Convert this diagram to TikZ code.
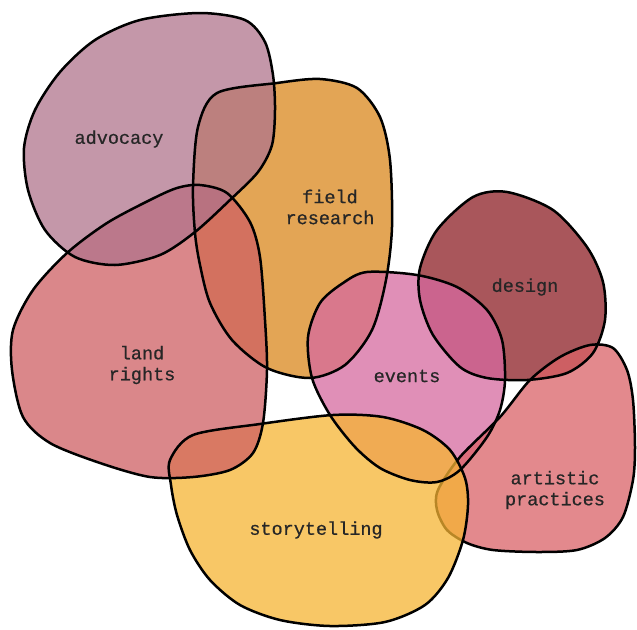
\documentclass[tikz,border=0pt]{standalone}
\usepackage{fontspec}
\newfontfamily\labelfont{Liberation Mono}[FakeBold=0.6]
\usepackage{tikz}

\definecolor{advcol}{RGB}{176,116,140}
\definecolor{fieldcol}{RGB}{218,135,28}
\definecolor{landcol}{RGB}{206,95,99}
\definecolor{designcol}{RGB}{140,30,36}
\definecolor{eventcol}{RGB}{214,106,159}
\definecolor{artcol}{RGB}{218,98,103}
\definecolor{storycol}{RGB}{246,180,51}

\newcommand{\advshape}{plot[smooth cycle] coordinates {(95,40) (140,20) (200,13) (245,20) (265,42) (273,75) (275,110) (272,145) (258,172) (230,200) (195,232) (160,255) (115,265) (75,257) (45,230) (28,190) (24,148) (35,110) (60,72)}}
\newcommand{\fieldshape}{plot[smooth cycle] coordinates {(217,93) (277,83) (320,79) (357,88) (380,117) (390,160) (392,227) (386,280) (372,330) (345,365) (310,378) (267,368) (232,340) (210,303) (200,265) (195,233) (193,187) (198,127)}}
\newcommand{\landshape}{plot[smooth cycle] coordinates {(177,188) (200,185) (227,193) (250,222) (260,257) (265,320) (267,370) (263,423) (253,453) (230,470) (193,477) (150,477) (100,463) (50,443) (23,417) (12,370) (13,330) (33,290) (67,253) (107,223) (150,200)}}
\newcommand{\designshape}{plot[smooth cycle] coordinates {(473,197) (507,192) (553,210) (587,247) (603,282) (605,320) (593,353) (567,373) (527,380) (487,378) (460,367) (433,335) (420,300) (420,268) (437,230)}}
\newcommand{\eventshape}{plot[smooth cycle] coordinates {(367,272) (417,275) (457,287) (487,310) (502,340) (505,380) (500,410) (487,437) (460,470) (437,482) (410,480) (380,468) (355,447) (330,415) (312,378) (308,337) (320,303) (343,283)}}
\newcommand{\artshape}{plot[smooth cycle] coordinates {(530,380) (560,357) (590,345) (613,348) (627,370) (633,400) (635,447) (633,480) (623,517) (605,538) (577,550) (537,552) (493,550) (467,543) (447,530) (437,510) (438,490) (460,457) (500,417)}}
\newcommand{\storyshape}{plot[smooth cycle] coordinates {(170,460) (193,435) (260,424) (333,415) (383,417) (423,430) (450,450) (465,478) (468,505) (463,540) (448,578) (425,605) (385,622) (330,626) (280,620) (240,605) (210,580) (190,550) (177,515) (171,485)}}

\begin{document}
\begin{tikzpicture}
		[x=1pt, y=-1pt,
		blob/.style = {fill opacity=0.75},
		rim/.style = {draw=black, line width=2.5pt, line join=round},
		label/.style = {font=\labelfont\fontsize{18.5}{21}\selectfont, text=black!85, align=center, inner sep=0pt}]
	\useasboundingbox (0,0) rectangle (637,629);
	\fill[blob, fieldcol] \fieldshape;
	\fill[blob, designcol] \designshape;
	\fill[blob, eventcol] \eventshape;
	\fill[blob, artcol] \artshape;
	\draw[rim] \artshape;
	\fill[blob, storycol] \storyshape;
	\fill[blob, landcol] \landshape;
	\fill[blob, advcol] \advshape;
	\draw[rim] \fieldshape;
	\draw[rim] \designshape;
	\draw[rim] \eventshape;
	\draw[rim] \storyshape;
	\draw[rim] \landshape;
	\draw[rim] \advshape;
	\node[label] (advocacy) at (119,139) {advocacy};
	\node[label] (field) at (330,207) {field\\research};
	\node[label] (land) at (142,365) {land\\rights};
	\node[label] (design) at (525,287) {design};
	\node[label] (events) at (407,376) {events};
	\node[label] (artistic) at (555,490) {artistic\\practices};
	\node[label] (story) at (316,530) {storytelling};
\end{tikzpicture}
\end{document}
